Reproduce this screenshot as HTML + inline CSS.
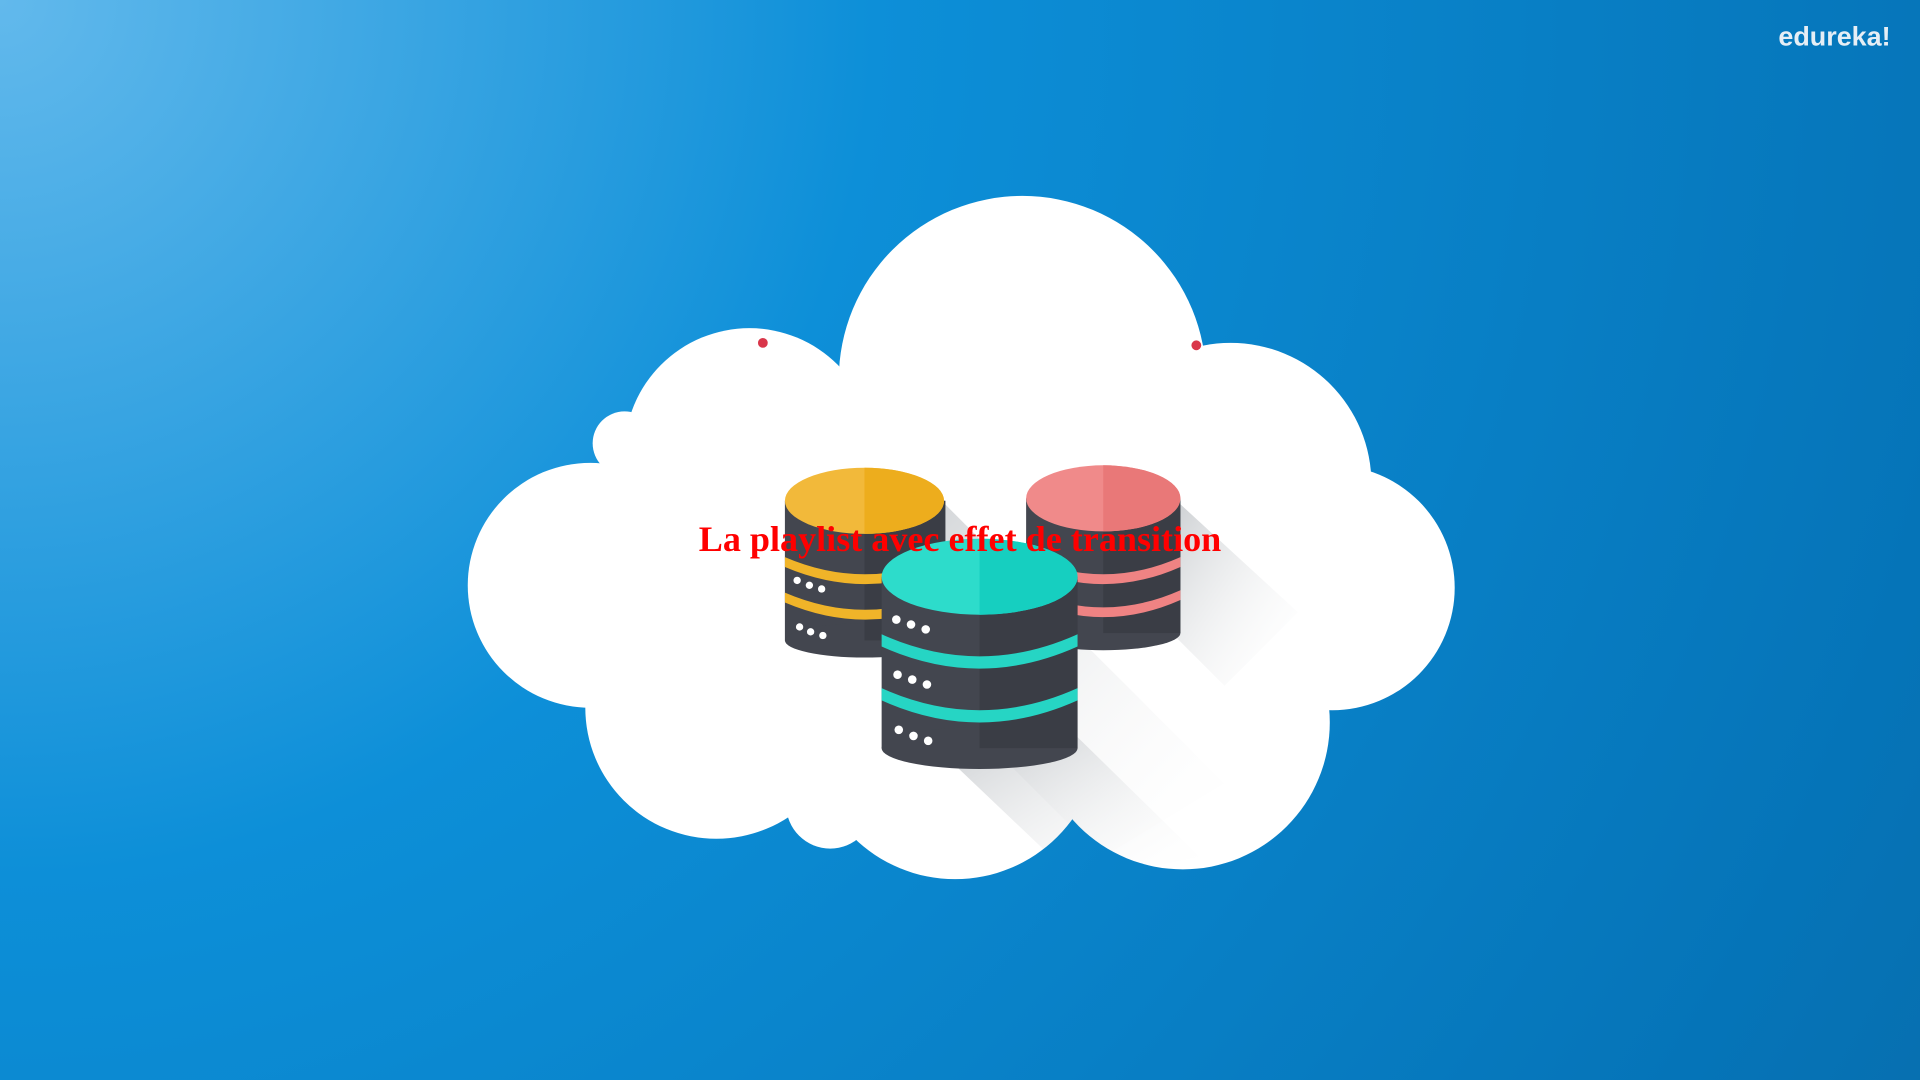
<!DOCTYPE html>
<html><head><meta charset="utf-8"><style>
html,body{margin:0;padding:0;width:1920px;height:1080px;overflow:hidden}
svg{display:block}
</style></head><body>
<svg width="1920" height="1080" viewBox="0 0 1568 882" preserveAspectRatio="none" xmlns="http://www.w3.org/2000/svg">
<defs>
<radialGradient id="bg" cx="0" cy="0" r="1.3" gradientUnits="objectBoundingBox" gradientTransform="scale(1,1.78)">
<stop offset="0" stop-color="#62b9ec"/>
<stop offset="0.35" stop-color="#0d8fd8"/>
<stop offset="0.8" stop-color="#0574b8"/>
<stop offset="1" stop-color="#0a6aa6"/>
</radialGradient>
<linearGradient id="sh" x1="0" y1="0" x2="1" y2="1">
<stop offset="0" stop-color="#9aa0a6" stop-opacity="0.5"/>
<stop offset="1" stop-color="#ffffff" stop-opacity="0"/>
</linearGradient>
<clipPath id="cl">
<circle cx="835" cy="310" r="150"/>
<circle cx="612" cy="370" r="102"/>
<circle cx="482" cy="478" r="100"/>
<circle cx="585" cy="578" r="107"/>
<circle cx="780" cy="600" r="118"/>
<circle cx="966" cy="590" r="120"/>
<circle cx="1005" cy="395" r="115"/>
<circle cx="1088" cy="480" r="100"/>
<rect x="540" y="330" width="540" height="270"/>
</clipPath>
</defs>
<rect width="1568" height="882" fill="url(#bg)"/>
<g fill="#ffffff">
<circle cx="835" cy="310" r="150"/>
<circle cx="612" cy="370" r="102"/>
<circle cx="482" cy="478" r="100"/>
<circle cx="510" cy="362" r="26"/>
<circle cx="585" cy="578" r="107"/>
<circle cx="678" cy="657" r="36"/>
<circle cx="780" cy="600" r="118"/>
<circle cx="966" cy="590" r="120"/>
<circle cx="1005" cy="395" r="115"/>
<circle cx="1088" cy="480" r="100"/>
<rect x="540" y="330" width="540" height="270"/>
</g>
<circle cx="623" cy="280" r="4" fill="#d9364a"/>
<circle cx="977" cy="282" r="4" fill="#d9364a"/>
<g clip-path="url(#cl)">
<polygon points="770,410 1000,640 900,700 720,520" fill="url(#sh)"/>
<polygon points="962,410 1060,500 1000,560 960,520" fill="url(#sh)"/>
<polygon points="878,600 980,700 880,720 780,625" fill="url(#sh)"/>
</g>
<!-- red cylinder -->
<rect x="838" y="407" width="126" height="110" fill="#43464f"/>
<ellipse cx="901" cy="517" rx="63" ry="14" fill="#43464f"/>
<rect x="901" y="407" width="63" height="110" fill="#3a3d45"/>
<path d="M838,455 q63,28 126,0 v8 q-63,28 -126,0z" fill="#ef8383"/>
<path d="M838,482 q63,28 126,0 v8 q-63,28 -126,0z" fill="#ef8383"/>
<ellipse cx="901" cy="407" rx="63" ry="27" fill="#f08a8a"/>
<path d="M901,380 a63,27 0 0 1 0,54z" fill="#e97878"/>
<!-- yellow cylinder -->
<rect x="641" y="409" width="131" height="114" fill="#43464f"/>
<ellipse cx="706" cy="523" rx="65" ry="14" fill="#43464f"/>
<rect x="706" y="409" width="66" height="114" fill="#3a3d45"/>
<path d="M641,455 q65,28 131,0 v8 q-65,28 -131,0z" fill="#f0b429"/>
<path d="M641,484 q65,28 131,0 v8 q-65,28 -131,0z" fill="#f0b429"/>
<ellipse cx="706" cy="409" rx="65" ry="27" fill="#f2b93a"/>
<path d="M706,382 a65,27 0 0 1 0,54z" fill="#edad1d"/>
<g fill="#fff"><circle cx="651" cy="474" r="3"/><circle cx="661" cy="478" r="3"/><circle cx="671" cy="481" r="3"/>
<circle cx="653" cy="512" r="3"/><circle cx="662" cy="516" r="3"/><circle cx="672" cy="519" r="3"/></g>
<!-- teal cylinder -->
<rect x="720" y="471" width="160" height="140" fill="#43464f"/>
<ellipse cx="800" cy="611" rx="80" ry="17" fill="#43464f"/>
<rect x="800" y="471" width="80" height="140" fill="#3a3d45"/>
<path d="M720,518 q80,36 160,0 v10 q-80,36 -160,0z" fill="#26d5c4"/>
<path d="M720,562 q80,36 160,0 v10 q-80,36 -160,0z" fill="#26d5c4"/>
<ellipse cx="800" cy="471" rx="80" ry="31" fill="#2ddccb"/>
<path d="M800,440 a80,31 0 0 1 0,62z" fill="#16cfc0"/>
<g fill="#fff"><circle cx="732" cy="506" r="3.5"/><circle cx="744" cy="510" r="3.5"/><circle cx="756" cy="514" r="3.5"/>
<circle cx="733" cy="551" r="3.5"/><circle cx="745" cy="555" r="3.5"/><circle cx="757" cy="559" r="3.5"/>
<circle cx="734" cy="596" r="3.5"/><circle cx="746" cy="601" r="3.5"/><circle cx="758" cy="605" r="3.5"/></g>
<text x="784" y="450" text-anchor="middle" font-family="Liberation Serif, serif" font-weight="bold" font-size="29.5" fill="#ff0000">La playlist avec effet de transition</text>
<text x="1544" y="37" text-anchor="end" font-family="Liberation Sans, sans-serif" font-weight="bold" font-size="22" fill="#e6eef5">edureka!</text>
</svg>
</body></html>
